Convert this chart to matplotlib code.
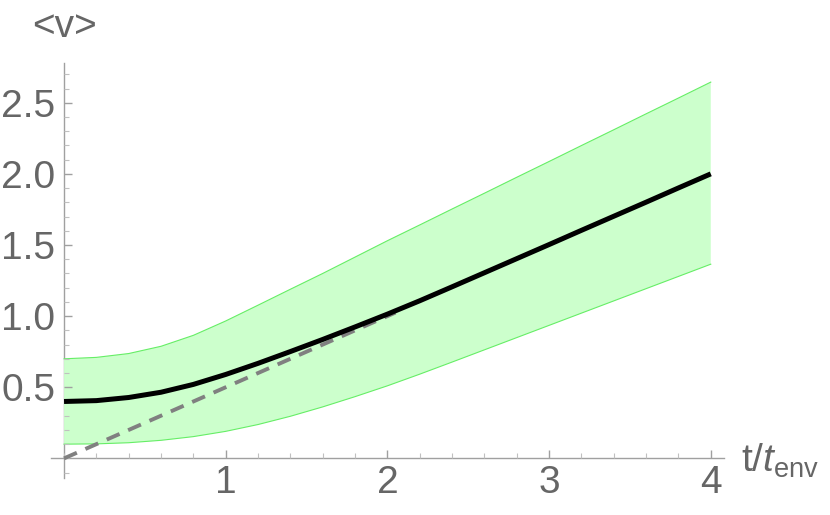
import matplotlib
matplotlib.use("Agg")
import matplotlib.pyplot as plt
from matplotlib.ticker import MultipleLocator, FixedLocator

plt.rcParams['font.family'] = ['Liberation Sans', 'DejaVu Sans']
plt.rcParams['mathtext.fontset'] = 'custom'
plt.rcParams['mathtext.rm'] = 'Liberation Sans'
plt.rcParams['mathtext.it'] = 'Liberation Sans:italic'

# ---- data ----
t = [0.0, 0.2, 0.4, 0.6, 0.8, 1.0, 1.2, 1.4, 1.6, 1.8, 2.0,
     2.2, 2.4, 2.6, 2.8, 3.0, 3.2, 3.4, 3.6, 3.8, 4.0]
v_mean = [0.400, 0.406, 0.428, 0.465, 0.520, 0.590, 0.668, 0.751, 0.836, 0.924, 1.014,
          1.108, 1.206, 1.305, 1.404, 1.503, 1.603, 1.702, 1.801, 1.901, 2.000]
v_upper = [0.700, 0.710, 0.737, 0.788, 0.865, 0.966, 1.077, 1.189, 1.300, 1.415, 1.530,
           1.641, 1.753, 1.864, 1.976, 2.087, 2.199, 2.310, 2.422, 2.533, 2.645]
v_lower = [0.100, 0.102, 0.110, 0.127, 0.153, 0.190, 0.238, 0.296, 0.362, 0.434, 0.510,
           0.592, 0.677, 0.763, 0.849, 0.935, 1.021, 1.107, 1.193, 1.279, 1.365]
asym_t = [0.0, 2.05]
asym_v = [0.0, 1.025]

x_ticks = [1, 2, 3, 4]
x_ticklabels = ["1", "2", "3", "4"]
y_ticks = [0.5, 1.0, 1.5, 2.0, 2.5]
y_ticklabels = ["0.5", "1.0", "1.5", "2.0", "2.5"]

W, H = 830, 515
fig = plt.figure(figsize=(W / 100, H / 100), dpi=100)
ax = fig.add_axes([51.1 / W, 36.7 / H, 672.6 / W, 415.4 / H])

ax.fill_between(t, v_lower, v_upper, facecolor='#ccffcc', edgecolor='none', zorder=1)
ax.plot(t, v_upper, color='#66ee66', lw=0.8, zorder=1.5)
ax.plot(t, v_lower, color='#66ee66', lw=0.8, zorder=1.5)
ax.plot(asym_t, asym_v, color='#808080', lw=2.8, linestyle=(0, (3.6, 2.4)),
        dash_capstyle='butt', zorder=2)
ax.plot(t, v_mean, color='black', lw=3.6, solid_capstyle='butt', zorder=3)

ax.set_xlim(-0.08, 4.08)
ax.set_ylim(-0.14, 2.78)

for s in ['top', 'right']:
    ax.spines[s].set_visible(False)
ax.spines['left'].set_position(('data', 0))
ax.spines['bottom'].set_position(('data', 0))
for s in ['left', 'bottom']:
    ax.spines[s].set_color('#a0a0a0')
    ax.spines[s].set_linewidth(1.0)
    ax.spines[s].set_zorder(0.5)

ax.xaxis.set_major_locator(FixedLocator(x_ticks))
ax.set_xticklabels(x_ticklabels)
ax.yaxis.set_major_locator(FixedLocator(y_ticks))
ax.set_yticklabels(y_ticklabels)
ax.xaxis.set_minor_locator(MultipleLocator(0.2))
ax.yaxis.set_minor_locator(MultipleLocator(0.1))

ax.tick_params(which='major', direction='in', length=6, width=1.0, color='#a0a0a0',
               labelsize=28, labelcolor='#666666')
ax.tick_params(which='minor', direction='in', length=3.5, width=0.8, color='#c0c0c0')
ax.tick_params(axis='x', which='major', pad=5)
ax.tick_params(axis='y', which='major', pad=6.5)

fig.text(64 / W, 1 - 37 / H, '<v>', ha='center', va='baseline', fontsize=28, color='#666666')
fig.text(741 / W, 1 - 472 / H, r'$\mathrm{t/}t_{\mathrm{env}}$', ha='left', va='baseline',
         fontsize=28, color='#666666')

fig.savefig('out.png', dpi=100)
